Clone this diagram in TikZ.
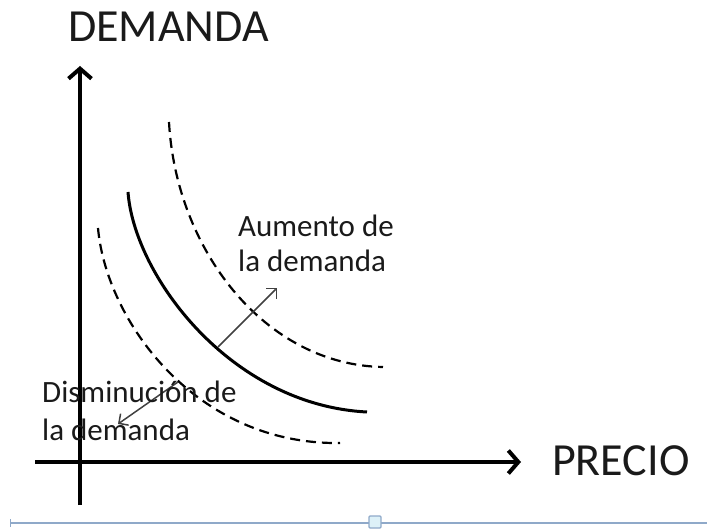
\documentclass[tikz,border=0pt]{standalone}
\usepackage{fontspec}
\setmainfont{Carlito}
\usetikzlibrary{arrows.meta}
\definecolor{barblue}{HTML}{8FA9C9}
\definecolor{boxfill}{HTML}{DDF1F8}
\definecolor{arrgray}{HTML}{404040}
\definecolor{txt}{HTML}{1A1A1A}
\tikzset{
  axis/.style={line width=4pt, -{Straight Barb[length=10pt,width=23pt,line width=4pt]}},
  solidcurve/.style={line width=3pt},
  dashcurve/.style={line width=2.2pt, dash pattern=on 10pt off 6pt},
  shiftarrow/.style={line width=1.5pt, arrgray, -{Straight Barb[length=7pt,width=14pt,line width=1.5pt]}},
  bigtext/.style={font=\fontsize{46}{50}\selectfont, text=txt, inner sep=0pt, anchor=base west},
  smalltext/.style={font=\fontsize{31}{35}\selectfont, text=txt, inner sep=0pt, anchor=base west},
}
\begin{document}
\begin{tikzpicture}[x=1pt,y=-1pt]
\useasboundingbox (0,0) rectangle (707,529);
% axes
\coordinate (yb) at (80,505);
\coordinate (yt) at (80,66);
\coordinate (xl) at (35,462);
\coordinate (xr) at (521,462);
\draw[axis] (yb) -- (yt);
\draw[axis] (xl) -- (xr);
\node[bigtext] (dem) at (68,42) {DEMANDA};
\node[bigtext] (pre) at (552,475) {PRECIO};
% curves
\coordinate (s0) at (128,192);
\coordinate (s1) at (367,412);
\coordinate (u0) at (169,122);
\coordinate (u1) at (383,367);
\coordinate (l0) at (98,228);
\coordinate (l1) at (340,443);
\draw[solidcurve] (s0) .. controls (134,275) and (230,405) .. (s1);
\draw[dashcurve] (u0) .. controls (176,250) and (265,365) .. (u1);
\draw[dashcurve] (l0) .. controls (106,320) and (195,445) .. (l1);
% shift arrows
\coordinate (a1) at (218,347);
\coordinate (a2) at (277,288);
\coordinate (d1) at (178,382);
\coordinate (d2) at (118,424);
\draw[shiftarrow] (a1) -- (a2);
\draw[shiftarrow] (d1) -- (d2);
% labels
\node[smalltext] (au1) at (238,237) {Aumento de};
\node[smalltext] (au2) at (238,272) {la demanda};
\node[smalltext] (di1) at (42,402) {Disminución de};
\node[smalltext] (di2) at (42,440) {la demanda};
% bottom bar
\coordinate (bl) at (10,523);
\coordinate (br) at (707,523);
\draw[barblue, line width=1.5pt] (bl) -- (br);
\draw[barblue, line width=0.8pt] (10,519) -- (10,527);
\node[draw=barblue, fill=boxfill, line width=1.2pt, minimum width=12pt, minimum height=12pt, inner sep=0pt, rounded corners=1pt] (box) at (375,522) {};
\end{tikzpicture}
\end{document}
